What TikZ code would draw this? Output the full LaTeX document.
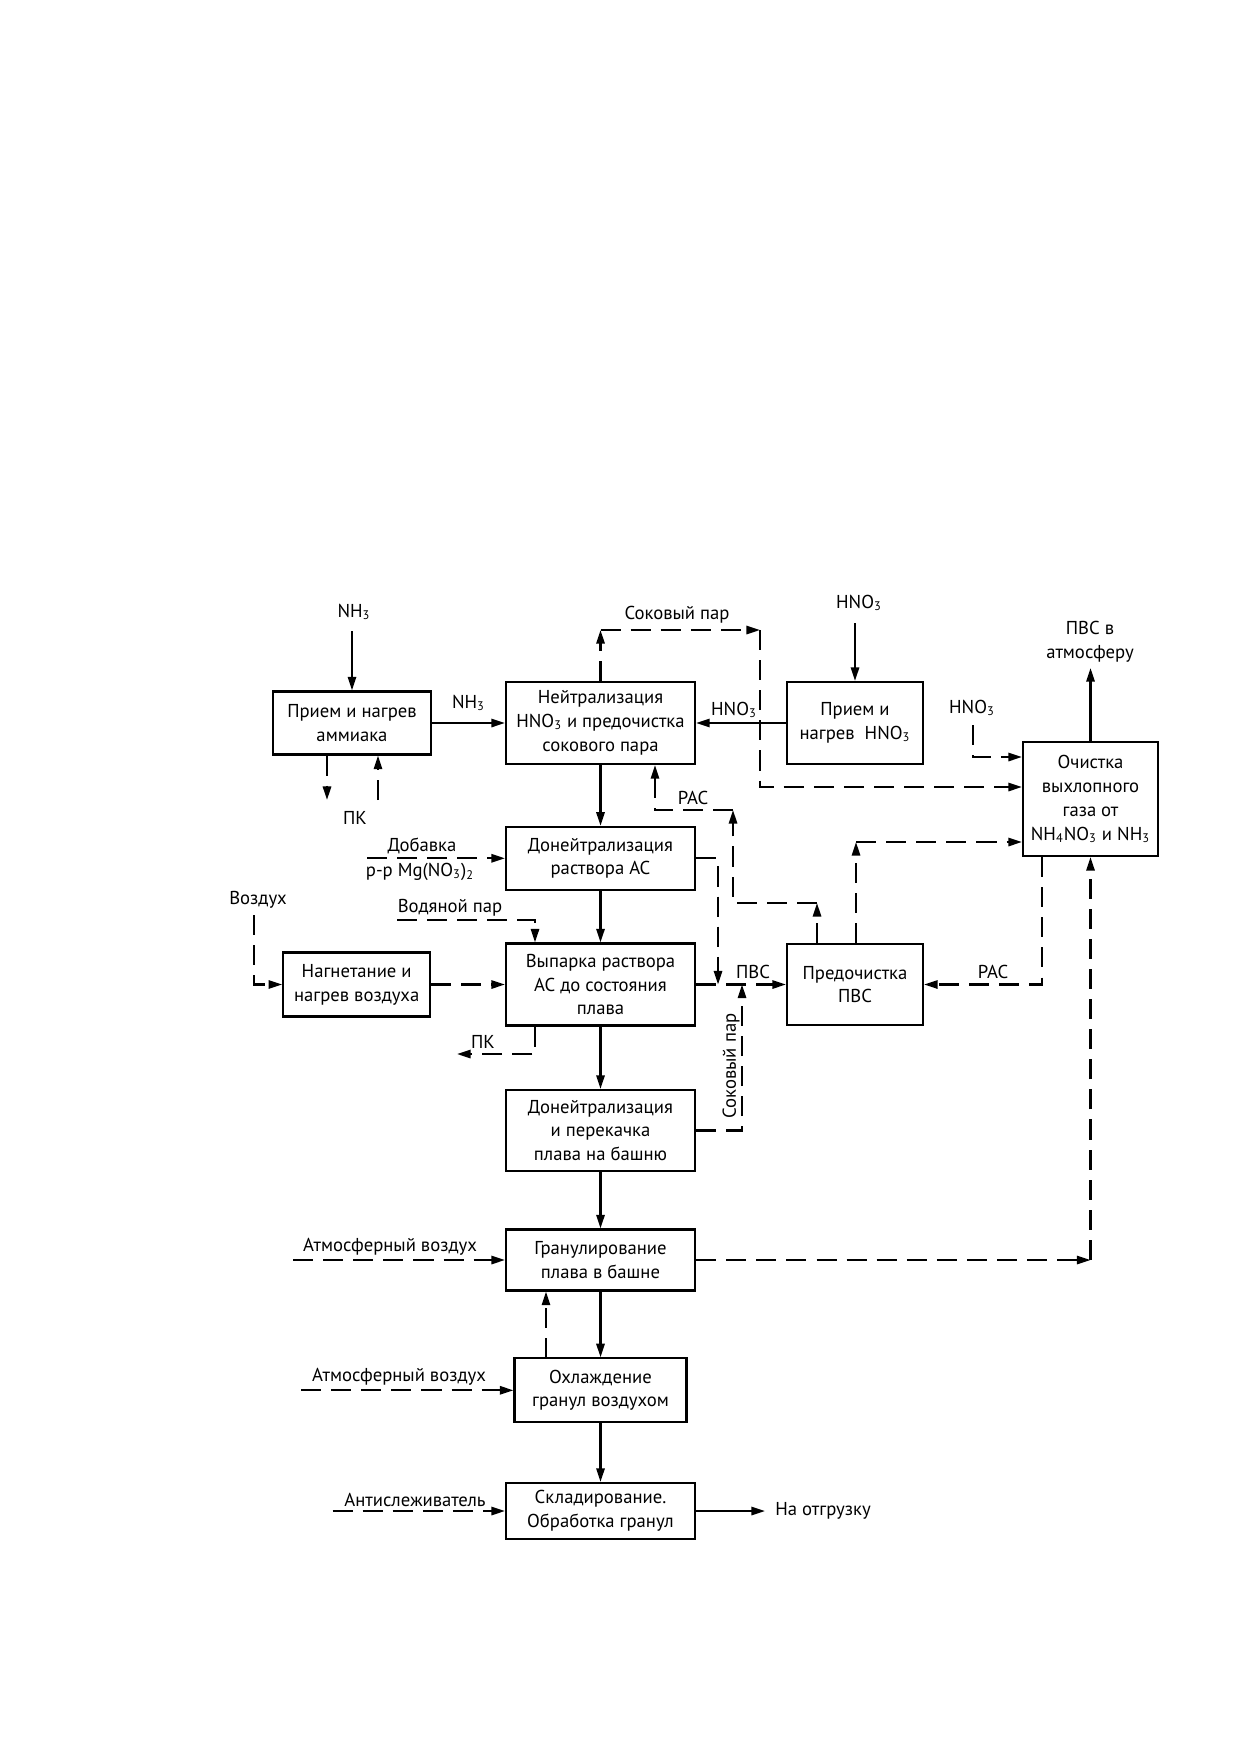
\documentclass[tikz,border=0pt]{standalone}
\usepackage{fontspec}
\setmainfont{PT Sans}
\usetikzlibrary{arrows.meta}
\newlength\unitpx
\setlength\unitpx{0.16935mm} % one pixel of the sheet
\tikzset{x=\unitpx, y=-\unitpx, % Coordinates are given in pixels of the sheet
every node/.style={font=\fontsize{9}{11.5}\selectfont},
>={Triangle[length=2.3mm,width=1.4mm]}, % Narrow filled arrow heads
box/.style={ % Sets the properties for each process block
draw, line width=1pt, align=center, inner sep=1pt,
minimum width=189\unitpx, minimum height=82\unitpx},
lbl/.style={inner sep=0pt, align=center},
main/.style={draw, ->, line width=1pt}, % Main flow of the melt
flow/.style={draw, line width=1pt, dash pattern=on 3.4mm off 1.7mm}} % Side flows

\begin{document}
\begin{tikzpicture}
    \useasboundingbox (0,0) rectangle (1240,1754);

    % blocks
    \node[box, minimum width=158\unitpx, minimum height=63\unitpx] (ammrcv) at (352,723) {Прием и нагрев\\аммиака};
    \node[box] (neutr) at (600.5,723) {Нейтрализация\\HNO\textsubscript{3} и предочистка\\сокового пара};
    \node[box, minimum width=136\unitpx] (hnorcv) at (855,723) {Прием и\\нагрев~~HNO\textsubscript{3}};
    \node[box, minimum width=135\unitpx, minimum height=114\unitpx] (cleaner) at (1090.5,799) {Очистка\\выхлопного\\газа от\\NH\textsubscript{4}NO\textsubscript{3} и NH\textsubscript{3}};
    \node[box, minimum height=63\unitpx] (doneutr) at (600.5,858.3) {Донейтрализация\\раствора АС};
    \node[box, minimum width=147\unitpx, minimum height=64\unitpx] (airheat) at (356.7,984.5) {Нагнетание и\\нагрев воздуха};
    \node[box] (evap) at (600.5,984.5) {Выпарка раствора\\АС до состояния\\плава};
    \node[box, minimum width=136\unitpx, minimum height=81\unitpx] (preclean) at (855,984.5) {Предочистка\\ПВС};
    \node[box, minimum height=81\unitpx] (pump) at (600.5,1130.5) {Донейтрализация\\и перекачка\\плава на башню};
    \node[box, minimum height=61\unitpx] (gran) at (600.5,1260) {Гранулирование\\плава в башне};
    \node[box, minimum width=172\unitpx, minimum height=64\unitpx] (cool) at (600.5,1390.3) {Охлаждение\\гранул воздухом};
    \node[box, minimum height=56\unitpx] (store) at (600.5,1511) {Складирование.\\Обработка гранул};

    % free ends and bends
    \coordinate (nh3in) at (352,631);
    \coordinate (pkout) at (327,800);
    \coordinate (pkin) at (378,800);
    \coordinate (sp1) at (600.5,630);
    \coordinate (sp2) at (760,630);
    \coordinate (sp3) at (760,787);
    \coordinate (hno3in) at (855,623);
    \coordinate (hno3b) at (973,725);
    \coordinate (hno3c) at (973,757);
    \coordinate (atm) at (1090.5,668);
    \coordinate (r1) at (817,903);
    \coordinate (r2) at (733,903);
    \coordinate (r3) at (733,810);
    \coordinate (r4) at (655,810);
    \coordinate (d1) at (718,858.3);
    \coordinate (d2) at (718,984.5);
    \coordinate (s1) at (742,1130.5);
    \coordinate (s2) at (742,984.5);
    \coordinate (p1) at (856,842);
    \coordinate (q1) at (1042,984.5);
    \coordinate (a1) at (254,915);
    \coordinate (a2) at (254,984.5);
    \coordinate (w1) at (397,920);
    \coordinate (w2) at (535,920);
    \coordinate (m1) at (367,858.3);
    \coordinate (k1) at (535,1054);
    \coordinate (k2) at (457,1054);
    \coordinate (g1) at (293,1260);
    \coordinate (cup) at (546,1358);
    \coordinate (h1) at (301,1390.3);
    \coordinate (t1) at (332.5,1511);
    \coordinate (e1) at (765,1511);
    \coordinate (z1) at (1090.5,1260);

    % main flow
    \draw[main] (nh3in) -- (ammrcv.north);
    \draw[main] (ammrcv) -- node[above=2pt] (lnh3b) {NH\textsubscript{3}} (neutr);
    \draw[main] (hno3in) -- (hnorcv.north);
    \draw[main] (hnorcv) -- (neutr);
    \draw[main] (neutr) -- (doneutr);
    \draw[main] (doneutr) -- (evap);
    \draw[main] (evap) -- (pump);
    \draw[main] (pump) -- (gran);
    \draw[main] (gran) -- (cool);
    \draw[main] (cool) -- (store);
    \draw[main] (store) -- (e1);
    \draw[main] (cleaner.north) -- (atm);

    % side flows
    \draw[flow,->] (ammrcv.south -| pkout) -- (pkout);
    \draw[flow,->] (pkin) -- (ammrcv.south -| pkin);
    \draw[flow,->] (neutr.north) -- (sp1);
    \draw[flow,->] (sp1) -- (sp2);
    \draw[flow,->] (sp2) -- (sp3) -- (cleaner.west |- sp3);
    \draw[flow,->] (hno3b) -- (hno3c) -- (cleaner.west |- hno3c);
    \draw[flow,->] (preclean.north -| r1) -- (r1);
    \draw[flow,->] (r1) -- (r2) -- (r3);
    \draw[flow,->] (r3) -- (r4) -- (neutr.south -| r4);
    \draw[flow,->] (doneutr.east) -- (d1) -- (d2);
    \draw[flow,->] (evap.east) -- (preclean.west);
    \draw[flow,->] (pump.east) -- (s1) -- (s2);
    \draw[flow,->] (preclean.north -| p1) -- (p1);
    \draw[flow,->] (p1) -- (cleaner.west |- p1);
    \draw[flow,->] (cleaner.south -| q1) -- (q1) -- (preclean.east);
    \draw[flow,->] (a1) -- (a2) -- (airheat.west);
    \draw[flow,->] (airheat) -- (evap);
    \draw[flow,->] (w1) -- (w2) -- (evap.north -| w2);
    \draw[flow,->] (m1) -- (doneutr.west);
    \draw[flow,->] (evap.south -| k1) -- (k1) -- (k2);
    \draw[flow,->] (g1) -- (gran.west);
    \draw[flow,->] (cup) -- (gran.south -| cup);
    \draw[flow,->] (h1) -- (cool.west);
    \draw[flow,->] (t1) -- (store.west);
    \draw[flow,->] (gran) -- (z1);
    \draw[flow,->] (z1) -- (cleaner.south -| z1);

    % labels
    \node[lbl] (lnh3a) at (354,612) {NH\textsubscript{3}};
    \node[lbl] (lpk1) at (355,818) {ПК};
    \node[lbl] (lsp1) at (677,615) {Соковый пар};
    \node[lbl] (lhno3a) at (859,603) {HNO\textsubscript{3}};
    \node[lbl] (lhno3b) at (734,710) {HNO\textsubscript{3}};
    \node[lbl] (lhno3c) at (972,708) {HNO\textsubscript{3}};
    \node[lbl] (latm) at (1090,642) {ПВС в\\атмосферу};
    \node[lbl] (lras1) at (693,798) {РАС};
    \node[lbl] (ladd) at (422,846) {Добавка};
    \node[lbl] (lmg) at (420,872) {р-р Mg(NO\textsubscript{3})\textsubscript{2}};
    \node[lbl] (lair) at (258,900) {Воздух};
    \node[lbl] (lsteam) at (450,908) {Водяной пар};
    \node[lbl] (lpvs) at (753,972) {ПВС};
    \node[lbl] (lras2) at (993,972) {РАС};
    \node[lbl] (lpk2) at (483,1042) {ПК};
    \node[lbl, rotate=90] (lsp2) at (731,1066) {Соковый пар};
    \node[lbl] (lair1) at (390,1247) {Атмосферный воздух};
    \node[lbl] (lair2) at (399,1377) {Атмосферный воздух};
    \node[lbl] (lanti) at (415,1500) {Антислеживатель};
    \node[lbl, anchor=west] (lship) at (775,1511) {На отгрузку};

\end{tikzpicture}
\end{document}
